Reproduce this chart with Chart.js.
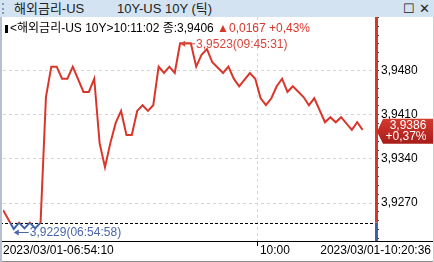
<!DOCTYPE html>
<html>
<head>
<meta charset="utf-8">
<script src="https://cdn.jsdelivr.net/npm/chart.js@4"></script>
<style>
  body { margin: 0; width: 434px; height: 262px; overflow: hidden; background: #fff; position: relative;
         font-family: "Liberation Sans", "Noto Sans CJK KR", sans-serif; }
  #titleBar { position: absolute; left: 0; top: 0; width: 434px; height: 17px; background: #d3e3f1; font-size: 13px; color: #222; }
  #titleBar span { position: absolute; top: 0; line-height: 17px; white-space: pre; }
  #grip { position: absolute; left: 2px; top: 3px; width: 2px; height: 11px; border-left: 2px dotted #8a9aae; }
  #winBtns { position: absolute; right: 4px; top: 0; font-size: 13px; line-height: 17px; }
  #header { position: absolute; left: 5px; top: 21px; font-size: 12px; line-height: 14px; white-space: pre; z-index: 2; color: #000; }
  #header .bar { display: inline-block; width: 3px; height: 8px; background: #000; margin-right: 2px; vertical-align: -1px; }
  #header .up { color: #d8362b; }
  #leftEdge { position: absolute; left: 0; top: 17px; width: 2px; height: 245px; background: #b4c0ce; z-index: 3; }
  #rightEdge { position: absolute; right: 0; top: 17px; width: 1px; height: 245px; background: #d0d0d0; z-index: 3; }
  canvas { position: absolute; left: 0; top: 17px; }
</style>
</head>
<body>
<div id="titleBar">
  <div id="grip"></div>
  <span style="left:14px">해외금리-US</span>
  <span style="left:117px">10Y-US 10Y (틱)</span>
  <span id="winBtns">☐ ✕</span>
</div>
<div id="header"><span class="bar"></span>&lt;해외금리-US 10Y&gt;10:11:02 종:3,9406 <span class="up">▲0,0167 +0,43%</span></div>
<div id="leftEdge"></div>
<div id="rightEdge"></div>
<canvas id="chart" width="434" height="245"></canvas>
<script>
// tick sequence numbers (x) and yields (y)
const tickIndex = [0, 2, 3, 4, 5, 6, 7, 8, 9, 10, 11, 12, 13, 15, 16, 17, 18, 19, 20, 21,
    22, 23, 24, 25, 26, 27, 28, 29, 30, 31, 32, 33, 35, 36, 37, 38, 39, 41, 42, 43,
    44, 46, 47, 48, 49, 50, 51, 52, 53, 54, 56, 57, 58, 60, 61, 62, 63, 65, 66, 67];
const yields = [3.9259, 3.9229, 3.9239, 3.9230, 3.9239, 3.9230, 3.9239, 3.9438, 3.9486, 3.9486,
    3.9467, 3.9467, 3.9486, 3.9446, 3.9446, 3.9467, 3.9365, 3.9327, 3.9365, 3.9397,
    3.9416, 3.9378, 3.9378, 3.9416, 3.9425, 3.9416, 3.9425, 3.9486, 3.9476, 3.9486,
    3.9476, 3.9523, 3.9523, 3.9486, 3.9505, 3.9514, 3.9493, 3.9476, 3.9486, 3.9467,
    3.9455, 3.9476, 3.9467, 3.9436, 3.9425, 3.9436, 3.9455, 3.9467, 3.9446, 3.9455,
    3.9438, 3.9425, 3.9436, 3.9398, 3.9406, 3.9398, 3.9406, 3.9386, 3.9398, 3.9386];
const prevClose = 3.9239;
const yTicks = [3.9270, 3.9340, 3.9410, 3.9480];
const xTickIdx = [0, 47.5];
const xTickLabels = ['2023/03/01-06:54:10', '10:00'];
const endLabel = '2023/03/01-10:20:36';
const maxLabel = '3,9523(09:45:31)';
const minLabel = '3,9229(06:54:58)';
const lastLabel = ['3,9386', '+0,37%'];

const RED = '#d9362b';
const BLUE = '#3d62a6';
const FONT = '"Liberation Sans", "Noto Sans CJK KR", sans-serif';

Chart.defaults.font.family = FONT;
Chart.defaults.font.size = 12;

const minorStep = 0.0014;
const isMajor = v => yTicks.some(t => Math.abs(t - v) < 1e-7);
const fmt = v => v.toFixed(4).replace('.', ',');

function lineColor(context) {
    const { chart } = context;
    const { ctx, chartArea, scales } = chart;
    if (!chartArea) return RED;
    const y0 = scales.y.getPixelForValue(prevClose);
    const t = Math.min(1, Math.max(0, (y0 - chartArea.top) / (chartArea.bottom - chartArea.top)));
    const g = ctx.createLinearGradient(0, chartArea.top, 0, chartArea.bottom);
    g.addColorStop(0, RED);
    g.addColorStop(t, RED);
    g.addColorStop(t, BLUE);
    g.addColorStop(1, BLUE);
    return g;
}

function arrowLabel(ctx, x, y, text, color) {
    ctx.save();
    ctx.strokeStyle = color;
    ctx.fillStyle = color;
    ctx.lineWidth = 1;
    ctx.beginPath();
    ctx.moveTo(x + 3, y + 0.5);
    ctx.lineTo(x + 15, y + 0.5);
    ctx.stroke();
    ctx.beginPath();
    ctx.moveTo(x, y + 0.5);
    ctx.lineTo(x + 5, y - 2.5);
    ctx.lineTo(x + 5, y + 3.5);
    ctx.closePath();
    ctx.fill();
    ctx.font = '12px ' + FONT;
    ctx.textBaseline = 'middle';
    ctx.textAlign = 'left';
    ctx.fillText(text, x + 16, y + 1);
    ctx.restore();
}

const decorations = {
    id: 'decorations',
    beforeDatasetsDraw(chart) {
        const { ctx, chartArea, scales } = chart;
        const y0 = Math.round(scales.y.getPixelForValue(prevClose)) + 0.5;
        ctx.save();
        ctx.strokeStyle = '#000';
        ctx.lineWidth = 1;
        ctx.setLineDash([3, 2]);
        ctx.beginPath();
        ctx.moveTo(0, y0);
        ctx.lineTo(chartArea.right, y0);
        ctx.stroke();
        ctx.restore();
    },
    afterDraw(chart) {
        const { ctx, chartArea, scales } = chart;
        const W = chart.width;
        const y0 = scales.y.getPixelForValue(prevClose);
        const ax = chartArea.right + 0.5;
        ctx.save();
        // right axis line, red above previous close, blue below
        ctx.lineWidth = 3;
        ctx.strokeStyle = RED;
        ctx.beginPath();
        ctx.moveTo(ax, chartArea.top);
        ctx.lineTo(ax, y0);
        ctx.stroke();
        ctx.strokeStyle = BLUE;
        ctx.beginPath();
        ctx.moveTo(ax, y0);
        ctx.lineTo(ax, chartArea.bottom);
        ctx.stroke();
        // time axis line and bottom edge
        ctx.lineWidth = 1;
        ctx.strokeStyle = '#000';
        ctx.beginPath();
        ctx.moveTo(0, chartArea.bottom + 0.5);
        ctx.lineTo(W, chartArea.bottom + 0.5);
        ctx.stroke();
        ctx.strokeStyle = '#8c8c8c';
        ctx.beginPath();
        ctx.moveTo(0, chart.height - 0.5);
        ctx.lineTo(W, chart.height - 0.5);
        ctx.stroke();
        // time labels: ticks from the x scale, plus the last time stamp
        const ly = chartArea.bottom + 10;
        ctx.fillStyle = '#000';
        ctx.font = '12px ' + FONT;
        ctx.textBaseline = 'middle';
        ctx.textAlign = 'left';
        scales.x.ticks.forEach((t, i) => {
            ctx.fillText(xTickLabels[i], scales.x.getPixelForValue(t.value) + (i ? 2 : 0), ly);
        });
        ctx.textAlign = 'right';
        ctx.fillText(endLabel, W - 3, ly);
        ctx.restore();

        // high / low notes
        const meta = chart.getDatasetMeta(0);
        let hi = 0, lo = 0;
        yields.forEach((v, i) => {
            if (v > yields[hi]) hi = i;
            if (v < yields[lo]) lo = i;
        });
        const ph = meta.data[hi], pl = meta.data[lo];
        arrowLabel(ctx, ph.x, ph.y, maxLabel, '#d8463c');
        arrowLabel(ctx, pl.x, pl.y + 3, minLabel, '#4a68a8');

        // current value box
        const last = meta.data[meta.data.length - 1];
        const vy = last.y;
        const bx = chartArea.right + 1;
        ctx.save();
        const g = ctx.createLinearGradient(bx, vy - 11, bx, vy + 14);
        g.addColorStop(0, '#d23a30');
        g.addColorStop(1, '#a81c18');
        ctx.fillStyle = g;
        ctx.beginPath();
        ctx.moveTo(bx, vy + 2);
        ctx.lineTo(bx + 6, vy - 11);
        ctx.lineTo(W, vy - 11);
        ctx.lineTo(W, vy + 14);
        ctx.lineTo(bx + 6, vy + 14);
        ctx.closePath();
        ctx.fill();
        ctx.fillStyle = '#fff';
        ctx.font = '12px ' + FONT;
        ctx.textAlign = 'center';
        ctx.textBaseline = 'middle';
        ctx.fillText(lastLabel[0], bx + 31, vy - 4);
        ctx.fillText(lastLabel[1], bx + 29, vy + 7);
        ctx.restore();
    }
};

new Chart(document.getElementById('chart'), {
    type: 'line',
    data: {
        datasets: [{
            data: tickIndex.map((x, i) => ({ x: x, y: yields[i] })),
            borderColor: lineColor,
            borderWidth: 2,
            pointRadius: 0,
            tension: 0,
            fill: false
        }]
    },
    options: {
        responsive: false,
        animation: false,
        devicePixelRatio: 1,
        layout: { padding: { left: 3, right: 0, top: 0, bottom: 0 } },
        plugins: { legend: { display: false }, tooltip: { enabled: false } },
        scales: {
            x: {
                type: 'linear',
                min: 0,
                max: 69.5,
                afterBuildTicks: axis => { axis.ticks = xTickIdx.map(v => ({ value: v })); },
                afterFit: s => { s.height = 21; s.paddingLeft = 0; s.paddingRight = 0; },
                ticks: { display: false },
                grid: {
                    color: c => c.index === 0 ? 'rgba(0,0,0,0)' : '#e0d4d4',
                    tickColor: c => c.index === 0 ? 'rgba(0,0,0,0)' : '#000',
                    tickLength: 5
                },
                border: { display: false, dash: [3, 3] }
            },
            y: {
                type: 'linear',
                position: 'right',
                min: 3.9210,
                max: 3.95647,
                afterBuildTicks: axis => {
                    const ticks = [];
                    for (let v = yTicks[0]; v > axis.min; v -= minorStep) ticks.unshift({ value: v });
                    for (let v = yTicks[0] + minorStep; v < axis.max; v += minorStep) ticks.push({ value: v });
                    axis.ticks = ticks;
                },
                afterFit: s => { s.width = 58; s.paddingTop = 0; s.paddingBottom = 0; },
                ticks: {
                    autoSkip: false,
                    padding: 2,
                    color: '#000',
                    callback: v => isMajor(v) ? fmt(v) : ''
                },
                grid: {
                    color: c => isMajor(c.tick.value) ? '#d4d4d4' : 'rgba(0,0,0,0)',
                    tickColor: '#444',
                    tickLength: 3
                },
                border: { display: false, dash: [3, 3] }
            }
        }
    },
    plugins: [decorations]
});
</script>
</body>
</html>
